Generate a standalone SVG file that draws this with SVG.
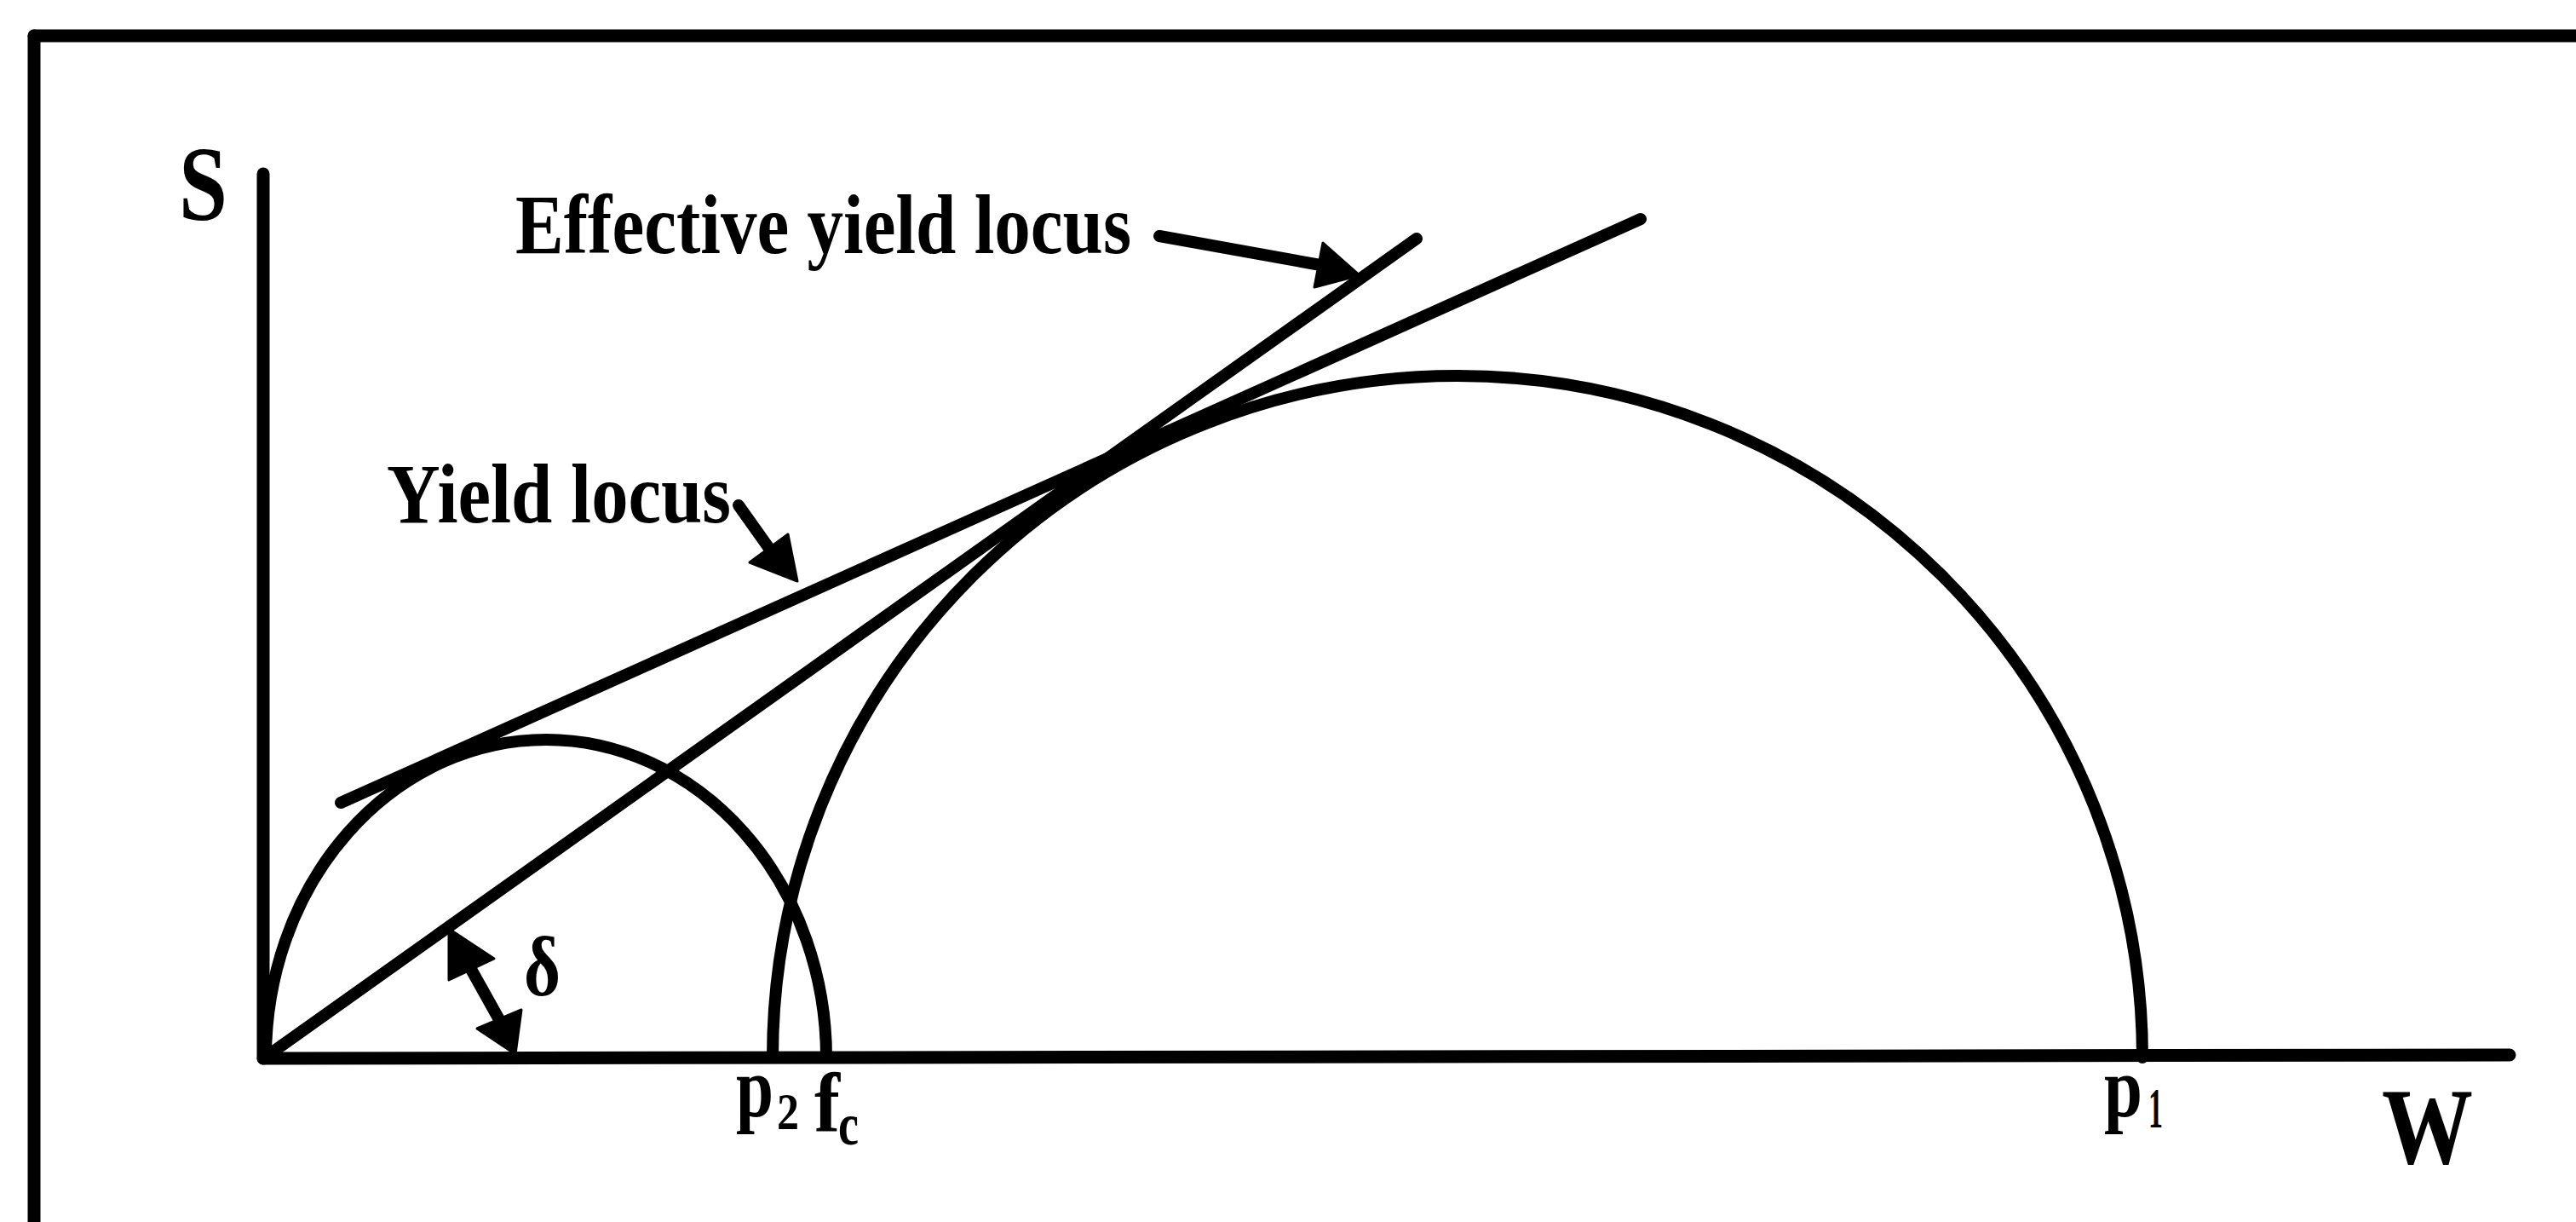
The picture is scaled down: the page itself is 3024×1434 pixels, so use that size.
<svg xmlns="http://www.w3.org/2000/svg" width="3024" height="1434" viewBox="0 0 3024 1434">
<style>
.ln{stroke:#000;fill:none;stroke-width:14;stroke-linecap:round}
.ax{stroke:#000;fill:none;stroke-width:15;stroke-linecap:round}
.hd{fill:#000;stroke:#000;stroke-width:3;stroke-linejoin:round}
.t{font-family:"Liberation Serif","Times New Roman",serif;fill:#000}
.b{font-weight:bold}
</style>
<rect width="3024" height="1434" fill="#fff"/>
<g id="frame">
<line class="ax" x1="40" y1="42" x2="3030" y2="42"/>
<line class="ax" x1="40" y1="42" x2="40" y2="1440"/>
</g>
<g id="axes">
<line class="ax" x1="309" y1="204" x2="309" y2="1242"/>
<line class="ax" x1="309" y1="1242" x2="2946" y2="1238"/>
<text class="t b" x="210" y="258" font-size="125" textLength="57" lengthAdjust="spacingAndGlyphs">S</text>
<text class="t b" x="2796" y="1365" font-size="128" textLength="107" lengthAdjust="spacingAndGlyphs">W</text>
</g>
<g id="small-circle">
<path class="ln" d="M312,1241 A329,373 0 0 1 970,1241"/>
</g>
<g id="big-circle">
<path class="ln" d="M907,1241 A804,800 0 0 1 2515,1241"/>
</g>
<g id="connectors">
<line class="ln" x1="400" y1="942" x2="1926" y2="257"/>
<line class="ln" x1="318" y1="1236" x2="1663" y2="280"/>
<line class="ln" x1="867" y1="593" x2="904" y2="645" stroke-width="11"/>
<polygon class="hd" points="936,682 880,660 925,627"/>
<line class="ln" x1="1361" y1="277" x2="1550" y2="311" stroke-width="12"/>
<polygon class="hd" points="1596,323 1553,285 1543,337"/>
<line class="ln" x1="550" y1="1132" x2="588" y2="1200" stroke-width="10"/>
<polygon class="hd" points="527,1090 527,1150 580,1125"/>
<polygon class="hd" points="605,1237 560,1207 612,1185"/>
</g>
<g id="labels">
<text class="t b" x="605" y="297" font-size="100" textLength="723" lengthAdjust="spacingAndGlyphs">Effective yield locus</text>
<text class="t b" x="454" y="613" font-size="100" textLength="404" lengthAdjust="spacingAndGlyphs">Yield locus</text>
<text class="t b" x="615" y="1168" font-size="100" textLength="43" lengthAdjust="spacingAndGlyphs">δ</text>
<text class="t b" x="864" y="1310" font-size="100" textLength="44" lengthAdjust="spacingAndGlyphs">p</text>
<text class="t b" x="912" y="1325" font-size="62" textLength="26" lengthAdjust="spacingAndGlyphs">2</text>
<text class="t b" x="956" y="1328" font-size="100" textLength="30" lengthAdjust="spacingAndGlyphs">f</text>
<text class="t b" x="984" y="1343" font-size="70" textLength="24" lengthAdjust="spacingAndGlyphs">c</text>
<text class="t b" x="2470" y="1310" font-size="100" textLength="45" lengthAdjust="spacingAndGlyphs">p</text>
<text class="t b" x="2522" y="1323" font-size="67" textLength="17" lengthAdjust="spacingAndGlyphs">1</text>
</g>
</svg>
